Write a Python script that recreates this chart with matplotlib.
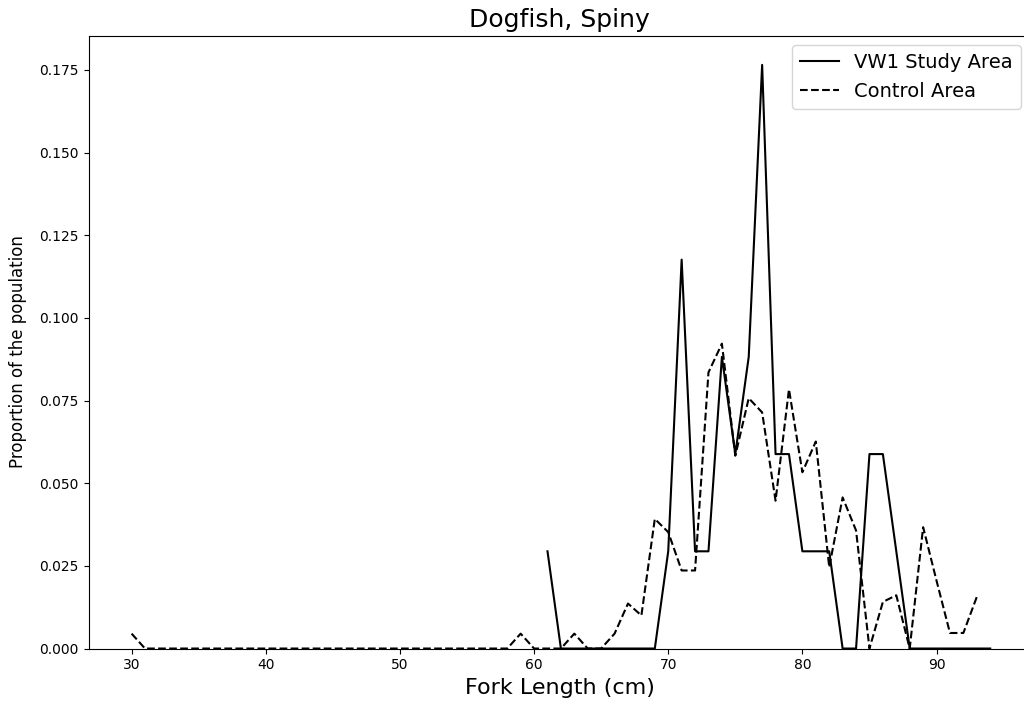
import numpy as np
import matplotlib
matplotlib.use("Agg")
import matplotlib.pyplot as plt

# Length-frequency proportions, spiny dogfish
vw1_lengths = list(range(61, 95))
vw1_props = [0.0294, 0, 0, 0, 0, 0, 0, 0, 0, 0.0294,
             0.1176, 0.0294, 0.0294, 0.0882, 0.0588, 0.0882, 0.1765, 0.0588, 0.0588, 0.0294,
             0.0294, 0.0294, 0, 0, 0.0588, 0.0588, 0.0294, 0, 0, 0,
             0, 0, 0, 0]

control_lengths = list(range(30, 94))
control_props = [0.0045] + [0] * 28 + [0.0045, 0, 0, 0, 0.0045, 0, 0, 0.0045, 0.0136, 0.0100,
                 0.0392, 0.0352, 0.0236, 0.0236, 0.0835, 0.0922, 0.0583, 0.0757, 0.0714, 0.0447,
                 0.0784, 0.0533, 0.0626, 0.0246, 0.0457, 0.0357, 0, 0.0141, 0.0161, 0,
                 0.0367, 0.0205, 0.0047, 0.0047, 0.0156]

fig = plt.figure(figsize=(10.24, 7.04), dpi=100)
ax = fig.add_axes([0.0866, 0.0788, 0.9197, 0.8705])

ax.plot(vw1_lengths, vw1_props, color="k", linestyle="-", linewidth=1.5, label="VW1 Study Area")
ax.plot(control_lengths, control_props, color="k", linestyle="--", linewidth=1.5, label="Control Area")

ax.set_xlim(26.8, 97.0)
ax.set_ylim(bottom=0)
ax.set_title("Dogfish, Spiny", fontsize=18)
ax.set_xlabel("Fork Length (cm)", fontsize=16)
ax.set_ylabel("Proportion of the population", fontsize=12)
ax.yaxis.set_label_coords(-0.066, 0.485)
ax.tick_params(labelsize=10)
ax.legend(loc="upper right", fontsize=14)

fig.savefig("out.png", dpi=100)
